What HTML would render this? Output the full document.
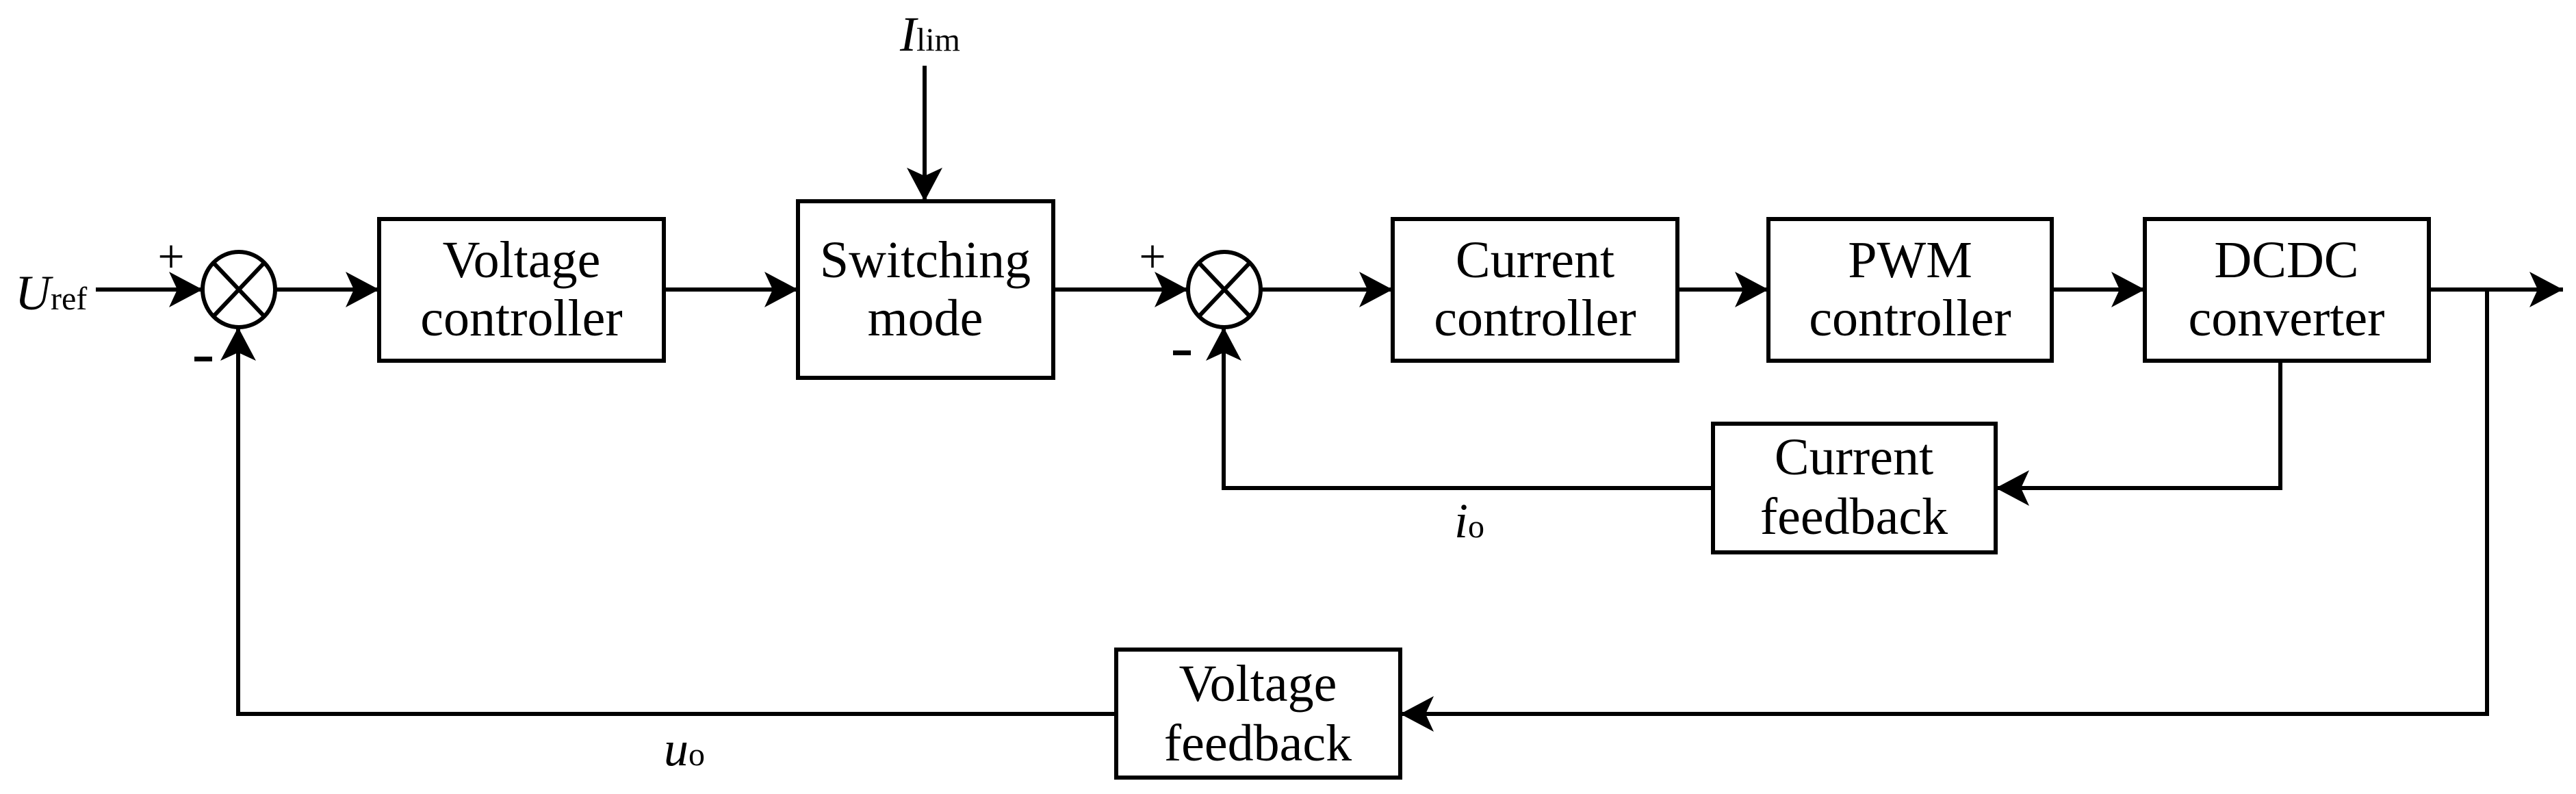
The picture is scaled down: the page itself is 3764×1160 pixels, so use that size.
<!DOCTYPE html>
<html><head><meta charset="utf-8"><style>
html,body{margin:0;padding:0;background:#fff;}
svg{display:block;}
text{font-family:"Liberation Serif",serif;fill:#000;}
</style></head><body>
<svg width="3764" height="1160" viewBox="0 0 3764 1160" xmlns="http://www.w3.org/2000/svg">
<defs>
<marker id="a" markerWidth="50" markerHeight="52" refX="49" refY="26" orient="auto" markerUnits="userSpaceOnUse">
<path d="M0,0 L49,26 L0,52 L12,26 Z" fill="#000"/>
</marker>
</defs>
<g stroke="#000" stroke-width="6" fill="none">
<rect x="554" y="320" width="416" height="207"/>
<rect x="1166" y="294" width="373" height="258"/>
<rect x="2035" y="320" width="416" height="207"/>
<rect x="2584" y="320" width="414" height="207"/>
<rect x="3134" y="320" width="415" height="207"/>
<rect x="2503" y="619" width="413" height="188"/>
<rect x="1631" y="949" width="415" height="187"/>
<ellipse cx="349" cy="423" rx="53" ry="55"/>
<line x1="312" y1="384" x2="386" y2="462"/><line x1="386" y1="384" x2="312" y2="462"/>
<ellipse cx="1789" cy="423" rx="53" ry="55"/>
<line x1="1752" y1="384" x2="1826" y2="462"/><line x1="1826" y1="384" x2="1752" y2="462"/>
<line x1="140" y1="423" x2="296" y2="423" marker-end="url(#a)"/>
<line x1="402" y1="423" x2="554" y2="423" marker-end="url(#a)"/>
<line x1="970" y1="423" x2="1166" y2="423" marker-end="url(#a)"/>
<line x1="1351" y1="96" x2="1351" y2="294" marker-end="url(#a)"/>
<line x1="1539" y1="423" x2="1736" y2="423" marker-end="url(#a)"/>
<line x1="1842" y1="423" x2="2035" y2="423" marker-end="url(#a)"/>
<line x1="2451" y1="423" x2="2584" y2="423" marker-end="url(#a)"/>
<line x1="2998" y1="423" x2="3134" y2="423" marker-end="url(#a)"/>
<line x1="3549" y1="423" x2="3745" y2="423" marker-end="url(#a)"/>
<polyline points="3332,527 3332,713 2916,713" marker-end="url(#a)"/>
<polyline points="2503,713 1788,713 1788,478" marker-end="url(#a)"/>
<polyline points="3634,423 3634,1043 2046,1043" marker-end="url(#a)"/>
<polyline points="1631,1043 348,1043 348,478" marker-end="url(#a)"/>
</g>
<g font-size="76" text-anchor="middle">
<text x="762" y="405">Voltage</text><text x="762" y="490">controller</text>
<text x="1352" y="405">Switching</text><text x="1352" y="490">mode</text>
<text x="2243" y="405">Current</text><text x="2243" y="490">controller</text>
<text x="2791" y="405">PWM</text><text x="2791" y="490">controller</text>
<text x="3341" y="405">DCDC</text><text x="3341" y="490">converter</text>
<text x="2709" y="693">Current</text><text x="2709" y="780">feedback</text>
<text x="1838" y="1024">Voltage</text><text x="1838" y="1111">feedback</text>
</g>
<g font-size="72">
<text x="22" y="452"><tspan font-style="italic">U</tspan><tspan font-size="48">ref</tspan></text>
<text x="1315" y="74"><tspan font-style="italic">I</tspan><tspan font-size="48">lim</tspan></text>
<text x="970" y="1118"><tspan font-style="italic">u</tspan><tspan font-size="48">o</tspan></text>
<text x="2125" y="785"><tspan font-style="italic">i</tspan><tspan font-size="48">o</tspan></text>
<text x="250" y="398" font-size="70" text-anchor="middle">+</text>
<text x="1684" y="398" font-size="70" text-anchor="middle">+</text>
</g>
<rect x="284" y="521" width="26" height="7" fill="#000"/>
<rect x="1714" y="512" width="26" height="7" fill="#000"/>
</svg>
</body></html>
